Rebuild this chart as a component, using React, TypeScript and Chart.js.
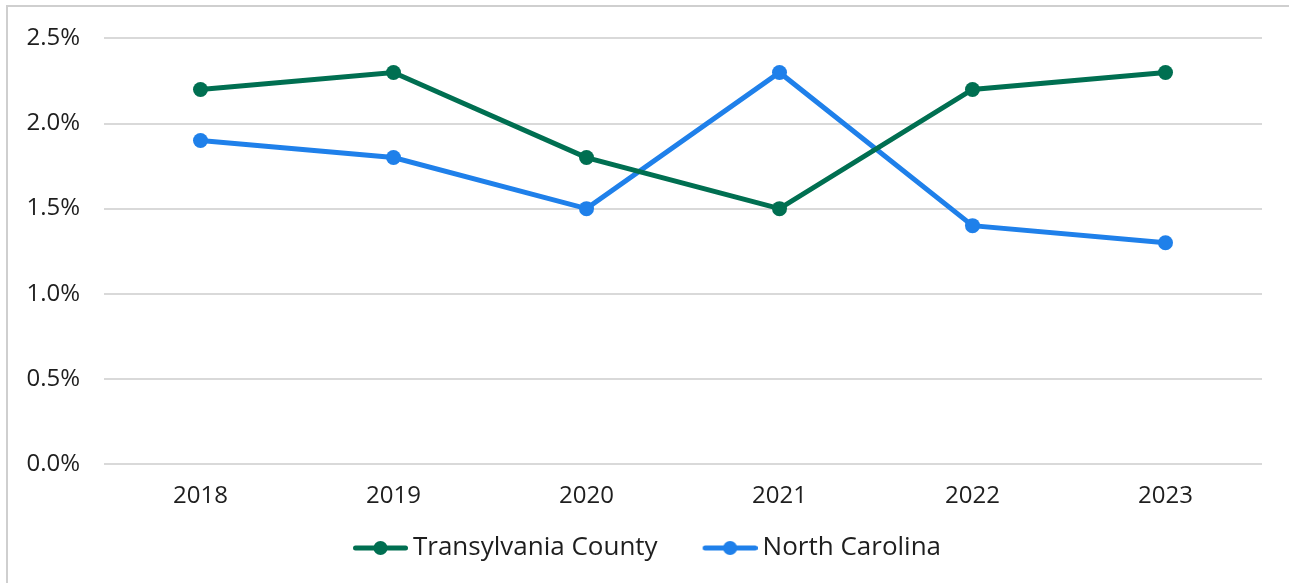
import React, { useEffect, useRef } from "react";
import { Chart, registerables } from "chart.js";

Chart.register(...registerables);

const years = ["2018", "2019", "2020", "2021", "2022", "2023"];
const transylvania = [2.2, 2.3, 1.8, 1.5, 2.2, 2.3];
const northCarolina = [1.9, 1.8, 1.5, 2.3, 1.4, 1.3];
const seriesNames = ["Transylvania County", "North Carolina"];
const seriesColors = ["#006F51", "#1F80EA"];

const FONT = "'Open Sans', sans-serif";
const TICK_SIZE = 24;
const LEGEND_SIZE = 26;
const TEXT = "#1e1e1e";

// legend icon: transparent lead-in, then line with a dot
const ICON_W = 95;
const ICON_BLANK = 40;
function legendIcon(color: string): HTMLCanvasElement {
  const c = document.createElement("canvas");
  c.width = ICON_W;
  c.height = 16;
  const ctx = c.getContext("2d")!;
  ctx.strokeStyle = color;
  ctx.lineWidth = 5;
  ctx.lineCap = "round";
  ctx.beginPath();
  ctx.moveTo(ICON_BLANK + 2.5, 8);
  ctx.lineTo(ICON_W - 2.5, 8);
  ctx.stroke();
  ctx.fillStyle = color;
  ctx.beginPath();
  ctx.arc(ICON_BLANK + (ICON_W - ICON_BLANK) / 2, 8, 7, 0, Math.PI * 2);
  ctx.fill();
  return c;
}

const frame = {
  id: "frame",
  beforeDraw(chart: any) {
    const ctx = chart.ctx;
    ctx.save();
    ctx.strokeStyle = "#cfcfcf";
    ctx.lineWidth = 2;
    ctx.beginPath();
    ctx.moveTo(7, 583);
    ctx.lineTo(7, 6);
    ctx.lineTo(1289, 6);
    ctx.stroke();
    ctx.restore();
  },
};

export default function App() {
  const ref = useRef<HTMLCanvasElement>(null);
  useEffect(() => {
    document.body.style.margin = "0";
    const icons = seriesColors.map(legendIcon);
    const chart = new Chart(ref.current!, {
      type: "line",
      data: {
        labels: years,
        datasets: [transylvania, northCarolina].map((d, i) => ({
          label: seriesNames[i],
          data: d,
          borderColor: seriesColors[i],
          backgroundColor: seriesColors[i],
          borderWidth: 5,
          pointRadius: 7.5,
          pointBorderWidth: 0,
          pointBackgroundColor: seriesColors[i],
          tension: 0,
        })),
      },
      options: {
        responsive: false,
        animation: false,
        layout: { padding: { top: 36, right: 27, left: 0, bottom: 12 } },
        plugins: {
          tooltip: { enabled: false },
          legend: {
            position: "bottom",
            labels: {
              usePointStyle: true,
              pointStyleWidth: ICON_W - 16,
              padding: 13,
              color: TEXT,
              font: { family: FONT, size: LEGEND_SIZE },
              generateLabels: (chart: any) =>
                chart.data.datasets.map((ds: any, i: number) => ({
                  text: ds.label,
                  fillStyle: ds.borderColor,
                  strokeStyle: ds.borderColor,
                  lineWidth: 0,
                  pointStyle: icons[i],
                  datasetIndex: i,
                  hidden: false,
                  fontColor: TEXT,
                })),
            },
          },
        },
        scales: {
          x: {
            offset: true,
            grid: { display: false, drawTicks: false },
            border: { display: false },
            ticks: { color: TEXT, padding: 18, font: { family: FONT, size: TICK_SIZE } },
            afterFit: (s: any) => {
              s.height = 58;
            },
          },
          y: {
            min: 0,
            max: 2.5,
            grid: { color: "#d9d9d9", lineWidth: 2, drawTicks: false },
            border: { display: false },
            ticks: {
              stepSize: 0.5,
              padding: 24,
              color: TEXT,
              font: { family: FONT, size: TICK_SIZE },
              callback: (v: any) => Number(v).toFixed(1) + "%",
            },
            afterFit: (s: any) => {
              s.width = 104;
            },
          },
        },
      },
      plugins: [frame],
    });
    return () => chart.destroy();
  }, []);
  return (
    <div style={{ position: "relative", width: 1289, height: 583 }}>
      <canvas ref={ref} width={1289} height={583} style={{ display: "block" }} />
    </div>
  );
}
